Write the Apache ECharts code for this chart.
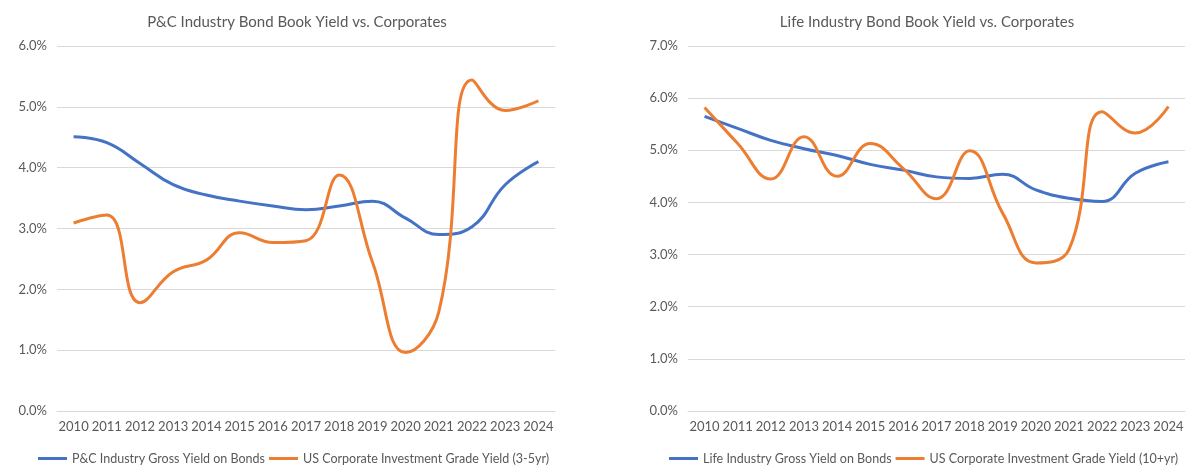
<!DOCTYPE html>
<html>
<head>
<meta charset="utf-8">
<script src="https://cdn.jsdelivr.net/npm/echarts@6/dist/echarts.min.js"></script>
<style>
html,body{margin:0;padding:0;background:#fff;}
#chart{width:1200px;height:475px;}
</style>
</head>
<body>
<div id="chart"></div>
<script>
var years = ['2010','2011','2012','2013','2014','2015','2016','2017','2018','2019','2020','2021','2022','2023','2024'];
var pcGross = [4.51, 4.41, 4.07, 3.72, 3.55, 3.45, 3.37, 3.31, 3.37, 3.45, 3.17, 2.90, 3.03, 3.72, 4.10];
var pcCorp = [3.09, 3.22, 1.78, 2.29, 2.48, 2.93, 2.77, 2.80, 3.88, 2.45, 0.96, 1.63, 5.44, 4.94, 5.10];
var lifeGross = [5.65, 5.42, 5.19, 5.03, 4.90, 4.73, 4.62, 4.49, 4.46, 4.54, 4.24, 4.08, 4.02, 4.56, 4.78];
var lifeCorp = [5.82, 5.13, 4.45, 5.26, 4.50, 5.13, 4.65, 4.07, 4.99, 3.79, 2.84, 3.10, 5.74, 5.33, 5.84];
var leftTitle = 'P&C Industry Bond Book Yield vs. Corporates';
var rightTitle = 'Life Industry Bond Book Yield vs. Corporates';
var names = ['P&C Industry Gross Yield on Bonds', 'US Corporate Investment Grade Yield (3-5yr)',
             'Life Industry Gross Yield on Bonds', 'US Corporate Investment Grade Yield (10+yr)'];

var FONT = 'Lato';
var TXT = '#595959';
var GRIDC = '#d9d9d9';
var BLUE = '#4472C4';
var ORANGE = '#ED7D31';

function xAx(i){
  return {type:'category', gridIndex:i, data:years, boundaryGap:true,
    axisLine:{show:true, lineStyle:{color:GRIDC, width:1}},
    axisTick:{show:false},
    axisLabel:{color:TXT, fontFamily:FONT, fontSize:13, margin:9, interval:0}};
}
function yAx(i, max){
  return {type:'value', gridIndex:i, min:0, max:max, interval:1,
    axisLine:{show:false}, axisTick:{show:false},
    splitLine:{lineStyle:{color:GRIDC, width:1}},
    axisLabel:{color:TXT, fontFamily:FONT, fontSize:13, margin:10,
      formatter:function(v){return v.toFixed(1)+'%';}}};
}
function ser(name, data, i, color){
  return {name:name, type:'line', xAxisIndex:i, yAxisIndex:i, data:data,
    smooth:0.45, symbol:'none', lineStyle:{color:color, width:3}, itemStyle:{color:color}};
}
function leg(d, left){
  return {data:d, left:left, top:447, width:700, orient:'horizontal',
    icon:'rect', itemWidth:29, itemHeight:3, itemGap:4,
    textStyle:{color:TXT, fontFamily:FONT, fontSize:12.5}};
}

var chart = echarts.init(document.getElementById('chart'));
chart.setOption({
  animation:false,
  backgroundColor:'#fff',
  title:[
    {text:leftTitle, left:292, top:10, textAlign:'center',
      textStyle:{color:TXT, fontFamily:FONT, fontSize:15, fontWeight:'normal'}},
    {text:rightTitle, left:922, top:10, textAlign:'center',
      textStyle:{color:TXT, fontFamily:FONT, fontSize:15, fontWeight:'normal'}}
  ],
  legend:[leg([names[0], names[1]], 44), leg([names[2], names[3]], 674)],
  grid:[
    {left:57, top:46, width:498, height:365},
    {left:688, top:46, width:497, height:365}
  ],
  xAxis:[xAx(0), xAx(1)],
  yAxis:[yAx(0,6), yAx(1,7)],
  series:[
    ser(names[0], pcGross, 0, BLUE),
    ser(names[1], pcCorp, 0, ORANGE),
    ser(names[2], lifeGross, 1, BLUE),
    ser(names[3], lifeCorp, 1, ORANGE)
  ]
});
// center legends on their anchor x
(function(){
  var model = chart.getModel();
  var comps = model.findComponents({mainType:'legend'});
  var centers = [294, 924];
  var newLeg = [];
  comps.forEach(function(c, idx){
    var view = chart.getViewOfComponentModel(c);
    var rect = view.group.getBoundingRect();
    newLeg.push({left: Math.round(centers[idx] - rect.width/2)});
  });
  chart.setOption({legend:newLeg});
})();
</script>
</body>
</html>
